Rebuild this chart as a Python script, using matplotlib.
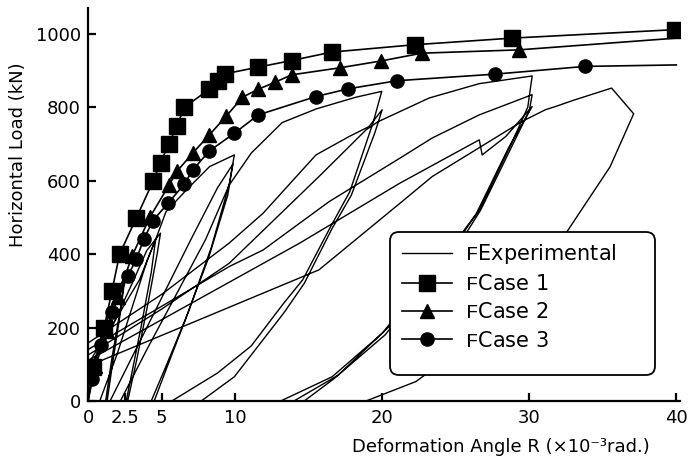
import matplotlib.pyplot as plt
from matplotlib.patches import FancyBboxPatch

plt.rcParams['font.family'] = 'DejaVu Sans'
plt.rcParams['mathtext.fontset'] = 'custom'
plt.rcParams['mathtext.tt'] = 'Liberation Mono'

# analysis cases (skeleton curves), R in 1e-3 rad, P in kN
case1_R = [0, 0.36, 1.09, 1.63, 2.15, 3.28, 4.42, 4.93, 5.5, 6.04, 6.56, 8.26, 8.82, 9.34, 11.58, 13.84, 16.58, 22.2, 28.84, 39.9]
case1_P = [0, 93, 198, 300, 400, 498, 598, 649, 700, 749, 800, 849, 870, 891, 909, 927, 950, 970, 988, 1011]

case2_R = [0, 0.5, 1.3, 2.03, 3.0, 4.2, 5.5, 6.04, 7.12, 8.26, 9.39, 10.5, 11.58, 12.73, 13.84, 17.1, 19.95, 22.7, 29.3, 40]
case2_P = [0, 95, 190, 284, 395, 500, 587, 625, 675, 725, 775, 827, 849, 868, 888, 907, 926, 947, 956, 988]

case3_R = [0, 0.25, 0.91, 1.63, 2.71, 3.28, 3.8, 4.41, 5.43, 6.56, 7.12, 8.26, 9.95, 11.58, 15.5, 17.7, 21.0, 27.7, 33.8, 40]
case3_P = [0, 60, 153, 241, 340, 386, 441, 491, 538, 591, 629, 681, 729, 779, 829, 850, 872, 890, 911, 915]

# experimental hysteresis, negative half cycles fall outside the axes
exp_R = [0, 0.5, 1.2, 1.9, 2.5, 2.2, 1.6, 1.2, -2.5,
         0, 0.9, 1.8, 2.5, 2.2, 1.7, 1.3, -2.5,
         0, 1.5, 3.0, 4.0, 4.93, 4.7, 4.1, 3.3, 2.7, -5,
         0.8, 2.0, 3.2, 4.0, 4.6, 4.3, 3.6, 2.9, 2.6, -5,
         0, 2.0, 3.5, 4.6, 5.3, 6.7, 8.26, 9.95, 9.6, 8.4, 6.8, 5.4, 4.5, -10,
         1.5, 3.0, 5.0, 7.0, 8.8, 9.85, 9.5, 8.2, 6.6, 5.2, 4.3, -10,
         2.2, 4.0, 6.0, 8.0, 9.6, 11.1, 13.2, 15.5, 18.2, 19.97, 19.4, 17.8, 16.5, 14.6, 13.3, 11.1, 8.8, 5.7, -20,
         0, 5.0, 9.6, 11.9, 15.5, 17.75, 19.1, 20.0, 19.5, 17.9, 16.6, 14.7, 13.3, 9.95, 7.7, -20,
         0, 5.0, 9.6, 15.7, 18.9, 19.7, 21.2, 23.2, 26.6, 30.2, 29.9, 28.8, 27.7, 26.6, 25.5, 20.0, 16.6, 13.1, -30,
         0, 9.6, 11.9, 16.4, 21.2, 23.4, 26.6, 30.2, 30.0, 28.9, 27.8, 26.7, 25.6, 20.2, 16.7, 14.7, -30,
         0, 14.4, 21.2, 26.6, 26.8, 28.4, 30.2, 29.6, 28.6, 27.5, 26.4, 25.3, 20.4, 17.0, 14.0, -30,
         0, 15.7, 21.2, 23.4, 29.5, 31.1, 31.8, 33.1, 35.6, 37.1, 35.5, 32.5, 28.5, 24.3, 22.3, 18.9, -20]
exp_P = [0, 110, 210, 290, 340, 250, 110, 0, -340,
         66, 160, 260, 330, 240, 110, 0, -330,
         84, 190, 320, 410, 457, 400, 270, 110, 0, -457,
         0, 130, 280, 380, 440, 350, 200, 60, 0, -440,
         100, 230, 330, 440, 515, 575, 638, 670, 590, 420, 240, 95, 0, -670,
         0, 120, 280, 440, 580, 645, 560, 390, 220, 85, 0, -645,
         0, 140, 290, 440, 588, 675, 758, 795, 827, 843, 760, 570, 475, 330, 266, 150, 76, 0, -843,
         158, 290, 430, 511, 670, 720, 747, 793, 730, 560, 470, 320, 239, 66, 0, -793,
         125, 250, 375, 611, 738, 760, 788, 825, 864, 885, 800, 702, 611, 520, 457, 184, 66, 0, -885,
         140, 366, 411, 543, 661, 716, 779, 834, 790, 700, 610, 520, 450, 180, 60, 0, -834,
         110, 430, 593, 711, 670, 720, 802, 760, 690, 600, 510, 450, 200, 70, 0, -802,
         95, 357, 538, 611, 761, 793, 802, 820, 852, 782, 638, 457, 280, 112, 53, 0, -300]

fig = plt.figure(figsize=(6.88, 4.59), dpi=100)
ax = fig.add_axes([88/688, 58/459, 592/688, 393/459])

ax.plot(exp_R, exp_P, color='k', linewidth=1.0, label=r'$\mathtt{F}$Experimental')
ax.plot(case1_R, case1_P, color='k', linewidth=1.2, marker='s', markersize=11,
        markevery=list(range(1, len(case1_R))), label=r'$\mathtt{F}$Case 1')
ax.plot(case2_R, case2_P, color='k', linewidth=1.2, marker='^', markersize=9.5,
        markevery=list(range(1, len(case2_R) - 1)), label=r'$\mathtt{F}$Case 2')
ax.plot(case3_R, case3_P, color='k', linewidth=1.2, marker='o', markersize=9.5,
        markevery=list(range(1, len(case3_R) - 1)), label=r'$\mathtt{F}$Case 3')

ax.set_xlim(0, 40.25)
ax.set_ylim(0, 1070)
ax.set_xticks([0, 2.5, 5, 10, 20, 30, 40])
ax.set_xticklabels(['0', '2.5', '5', '10', '20', '30', '40'])
ax.set_yticks([0, 200, 400, 600, 800, 1000])

ax.spines['top'].set_visible(False)
ax.spines['right'].set_visible(False)
ax.spines['left'].set_linewidth(1.6)
ax.spines['bottom'].set_linewidth(1.6)
ax.tick_params(direction='in', length=6, width=1.6, labelsize=13)
ax.tick_params(axis='x', pad=6)
ax.tick_params(axis='y', pad=5)

ax.set_xlabel('Deformation Angle R (×10⁻³rad.)', fontsize=13)
ax.xaxis.set_label_coords(0.698, -0.094)
ax.set_ylabel('Horizontal Load (kN)', fontsize=13)
ax.yaxis.set_label_coords(-0.103, 0.626)

# legend box drawn separately so its size matches the original
box = FancyBboxPatch((390/688, 84/459), 265/688, 143/459,
                     boxstyle='round,pad=0,rounding_size=0.013', mutation_aspect=688/459,
                     transform=fig.transFigure, facecolor='white', edgecolor='k',
                     linewidth=1.3, zorder=4.9, clip_on=False)
ax.add_patch(box)

leg = ax.legend(loc='upper left', bbox_to_anchor=(0.52, 0.42), borderaxespad=0,
                fontsize=15, handlelength=2.4, handletextpad=0.6, labelspacing=0.39,
                borderpad=0.3, frameon=False)
leg.set_zorder(5)

plt.savefig('out.png', dpi=100)
